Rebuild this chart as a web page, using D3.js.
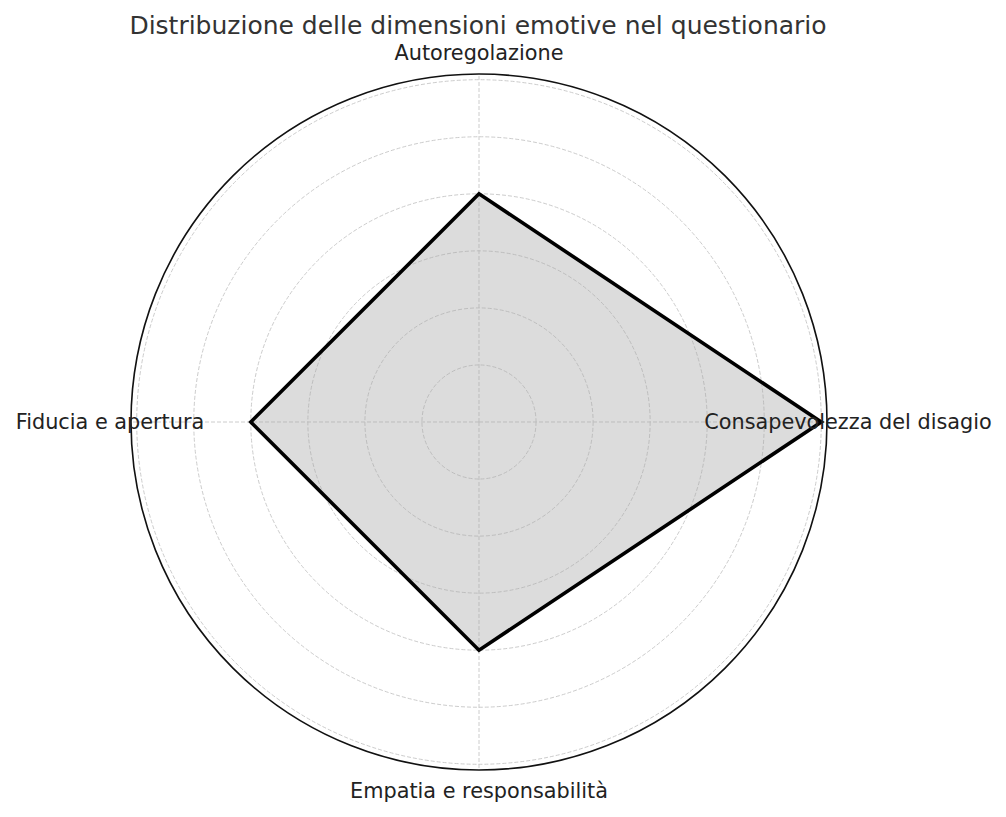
<!DOCTYPE html>
<html>
<head>
<meta charset="utf-8">
<script src="https://cdn.jsdelivr.net/npm/d3@7"></script>
<style>
  body { margin: 0; background: #fff; }
  svg { display: block; font-family: "DejaVu Sans", sans-serif; }
</style>
</head>
<body>
<svg id="chart" width="1006" height="817"></svg>
<script>
// chart values
var categories = ["Consapevolezza del disagio", "Autoregolazione", "Fiducia e apertura", "Empatia e responsabilità"];
var values = [6, 4, 4, 4];
var gridLevels = [1, 2, 3, 4, 5, 6];
var rMax = 6.1;

var svg = d3.select("#chart"),
    cx = 479,
    cy = 422,
    radius = 348;

var rScale = d3.scaleLinear().domain([0, rMax]).range([0, radius]);

// angle of each axis, counter-clockwise from east
var angle = function(i) { return i * 2 * Math.PI / categories.length; };
var px = function(i, v) { return cx + rScale(v) * Math.cos(angle(i)); };
var py = function(i, v) { return cy - rScale(v) * Math.sin(angle(i)); };

var g = svg.append("g");

var line = d3.line()
  .x(function(d, i) { return px(i, d); })
  .y(function(d, i) { return py(i, d); })
  .curve(d3.curveLinearClosed);

svg.append("clipPath")
  .attr("id", "polyclip")
  .append("path")
  .datum(values)
  .attr("d", line);

// grid circles + spokes, drawn twice: light outside, a bit darker inside the fill
var drawGrid = function(color, clip) {
  var gg = g.append("g");
  if (clip) gg.attr("clip-path", "url(#polyclip)");
  gg.selectAll("circle")
    .data(gridLevels)
    .enter().append("circle")
    .attr("cx", cx)
    .attr("cy", cy)
    .attr("r", function(d) { return rScale(d); })
    .attr("fill", "none")
    .attr("stroke", color)
    .attr("stroke-width", 1)
    .attr("stroke-dasharray", "4,2");
  gg.selectAll("line")
    .data(categories)
    .enter().append("line")
    .attr("x1", cx)
    .attr("y1", cy)
    .attr("x2", function(d, i) { return px(i, rMax); })
    .attr("y2", function(d, i) { return py(i, rMax); })
    .attr("stroke", color)
    .attr("stroke-width", 1)
    .attr("stroke-dasharray", "4,2");
};

drawGrid("#cccccc", false);

g.append("path")
  .datum(values)
  .attr("d", line)
  .attr("fill", "#dcdcdc")
  .attr("stroke", "none");

drawGrid("#bdbdbd", true);

g.append("path")
  .datum(values)
  .attr("d", line)
  .attr("fill", "none")
  .attr("stroke", "#000")
  .attr("stroke-width", 3.6)
  .attr("stroke-linejoin", "miter");

// outer spine
g.append("circle")
  .attr("cx", cx)
  .attr("cy", cy)
  .attr("r", radius)
  .attr("fill", "none")
  .attr("stroke", "#111")
  .attr("stroke-width", 1.6);

// axis labels
g.selectAll(".label")
  .data(categories)
  .enter().append("text")
  .attr("class", "label")
  .attr("x", function(d, i) { return cx + (radius + 21) * Math.cos(angle(i)); })
  .attr("y", function(d, i) { return cy - (radius + 21) * Math.sin(angle(i)); })
  .attr("text-anchor", "middle")
  .attr("dy", "0.35em")
  .attr("font-size", 20.8)
  .attr("fill", "#222")
  .text(function(d) { return d; });

// title
svg.append("text")
  .attr("x", 478)
  .attr("y", 34)
  .attr("text-anchor", "middle")
  .attr("font-size", 25)
  .attr("fill", "#333")
  .text("Distribuzione delle dimensioni emotive nel questionario");
</script>
</body>
</html>
